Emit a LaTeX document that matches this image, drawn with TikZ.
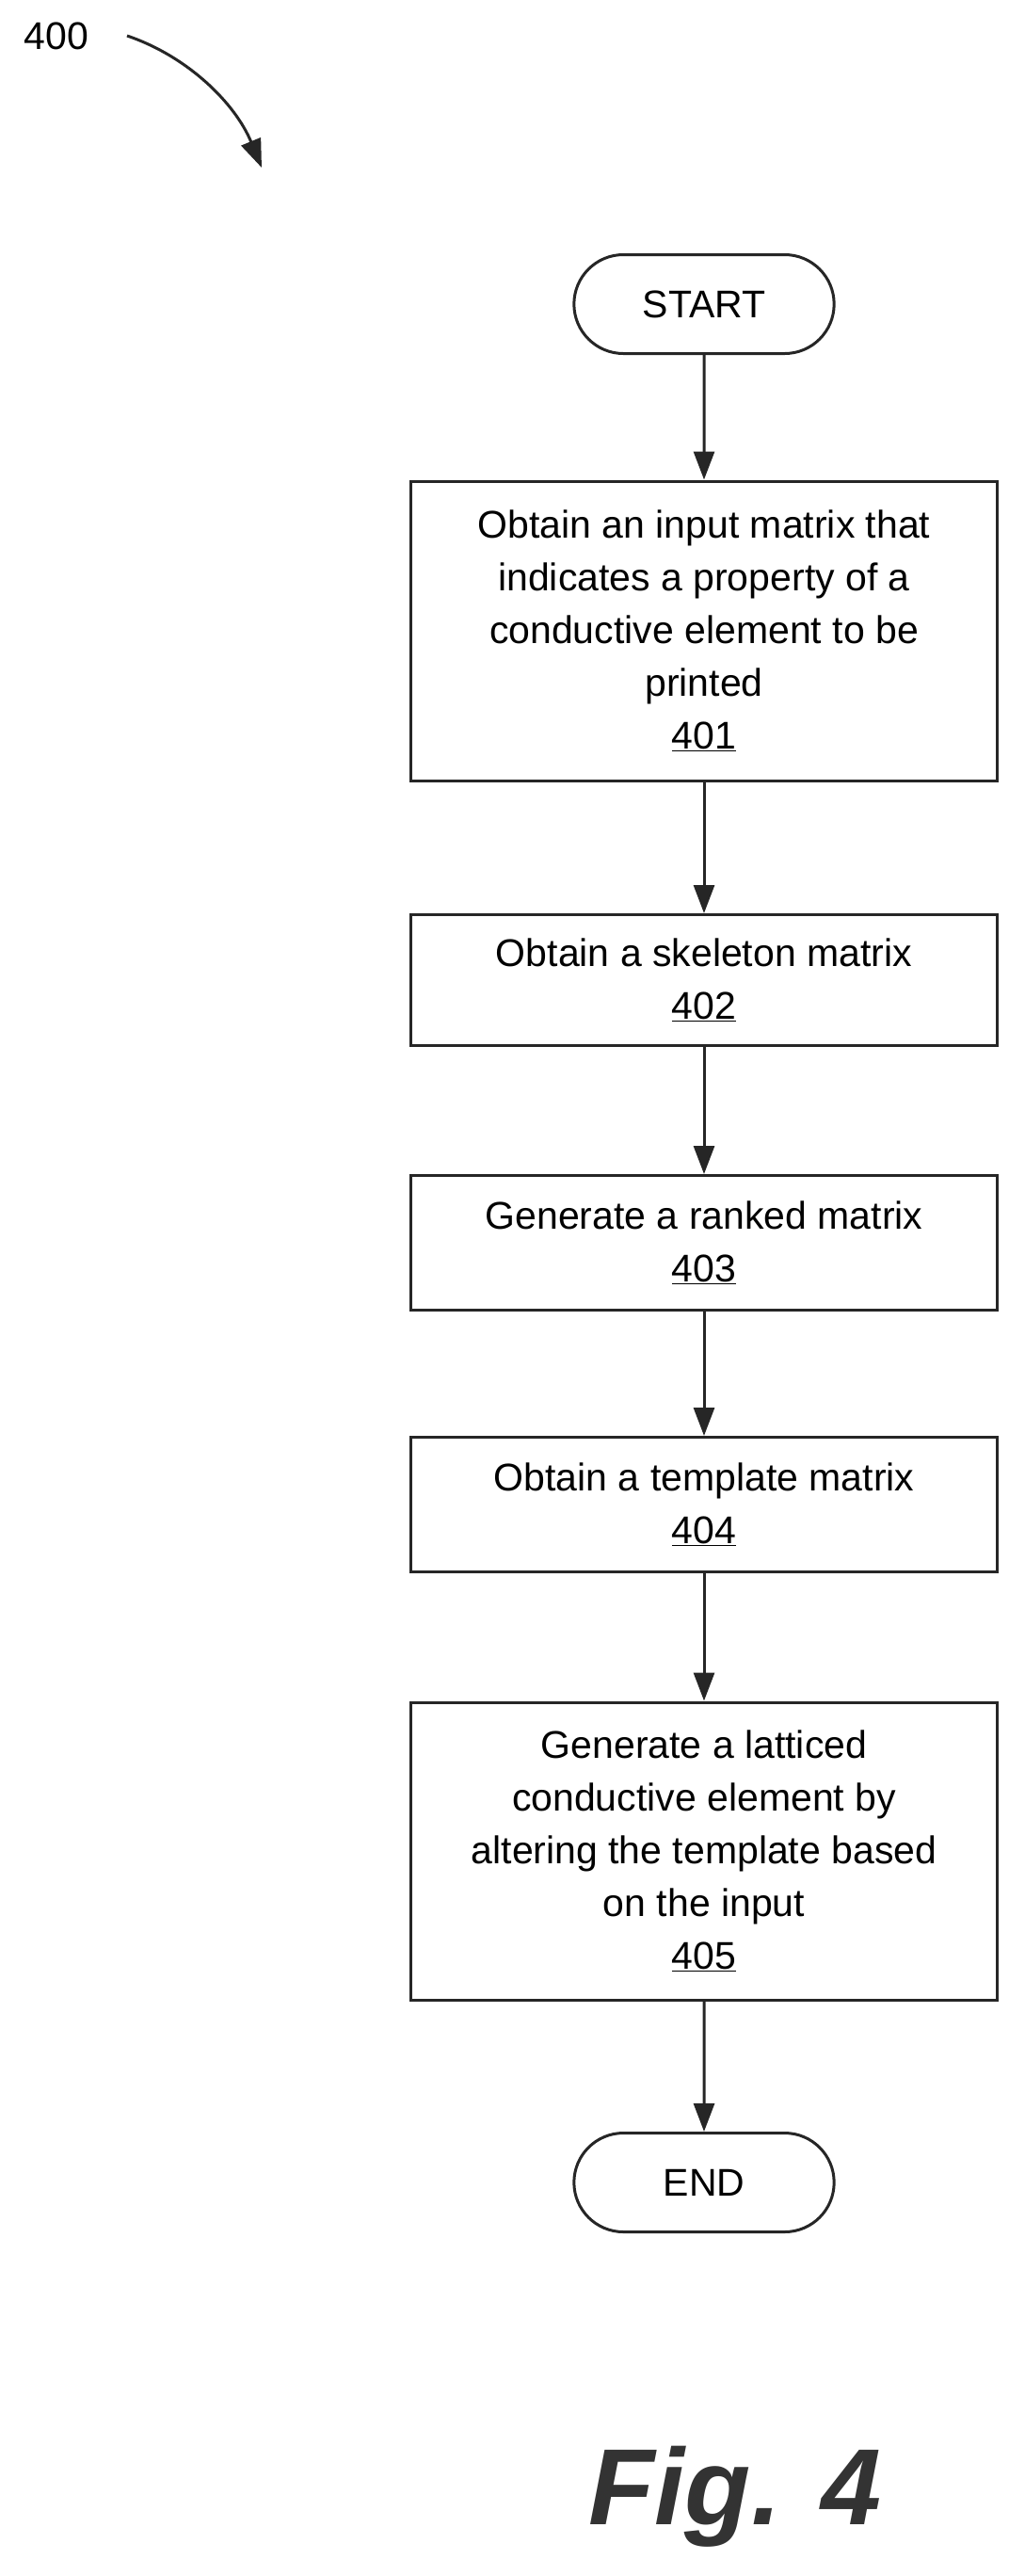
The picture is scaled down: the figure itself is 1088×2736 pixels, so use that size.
\documentclass[tikz,border=0pt]{standalone}
\usepackage{fontspec}
\setmainfont{Liberation Sans}
\usetikzlibrary{arrows.meta,shapes.misc}
\begin{document}
\begin{tikzpicture}[x=1pt,y=-1pt,
  line/.style={draw=black!85,line width=3pt},
  arr/.style={line,-{Triangle[length=30pt,width=22pt]}},
  stepbox/.style={line,rectangle,minimum width=623pt,align=center,inner sep=0pt,
     font=\fontsize{41}{56}\selectfont},
  term/.style={line,rounded rectangle,minimum width=283pt,minimum height=105pt,
     font=\fontsize{41}{56}\selectfont}]
\useasboundingbox (0,0) rectangle (1088,2736);
\node[anchor=center,font=\fontsize{41}{50}\selectfont] (lbl) at (60,38) {400};
\coordinate (a1) at (135,38);
\coordinate (a2) at (278,178);
\draw[arr] (a1) .. controls (200,60) and (250,110) .. (a2);
\node[term] (start) at (748,323) {START};
\node[stepbox,minimum height=318pt] (b1) at (748,670) {Obtain an input matrix that\\indicates a property of a\\conductive element to be\\printed\\\underline{401}};
\node[stepbox,minimum height=139pt] (b2) at (748,1041) {Obtain a skeleton matrix\\\underline{402}};
\node[stepbox,minimum height=143pt] (b3) at (748,1320) {Generate a ranked matrix\\\underline{403}};
\node[stepbox,minimum height=143pt] (b4) at (748,1598) {Obtain a template matrix\\\underline{404}};
\node[stepbox,minimum height=316pt] (b5) at (748,1966) {Generate a latticed\\conductive element by\\altering the template based\\on the input\\\underline{405}};
\node[term] (end) at (748,2318) {END};
\draw[arr] (start) -- (b1);
\draw[arr] (b1) -- (b2);
\draw[arr] (b2) -- (b3);
\draw[arr] (b3) -- (b4);
\draw[arr] (b4) -- (b5);
\draw[arr] (b5) -- (end);
\node[font=\fontsize{115}{120}\selectfont\bfseries\itshape,text=black!80] (fig) at (781,2652) {Fig. 4};
\end{tikzpicture}
\end{document}
